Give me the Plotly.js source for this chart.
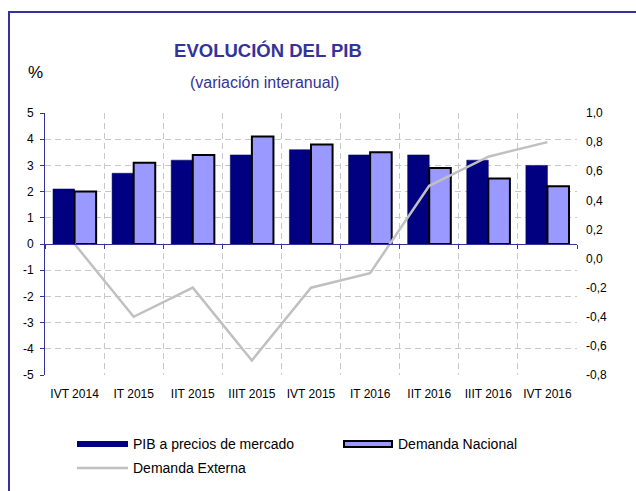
<!DOCTYPE html>
<html>
<head>
<meta charset="utf-8">
<script src="https://cdn.plot.ly/plotly-3.0.1.min.js"></script>
<style>
html,body{margin:0;padding:0;background:#fff;overflow:hidden;}
#wrap{position:relative;width:636px;height:491px;overflow:hidden;}
#chart{width:636px;height:491px;}
#frame{position:absolute;left:8px;top:11px;width:700px;height:600px;border-left:2px solid #333399;border-top:2px solid #333399;pointer-events:none;}
</style>
</head>
<body>
<div id="wrap"><div id="chart"></div><div id="frame"></div></div>
<script>
const categories = ['IVT 2014','IT 2015','IIT 2015','IIIT 2015','IVT 2015','IT 2016','IIT 2016','IIIT 2016','IVT 2016'];
const pibMercado = [2.1, 2.7, 3.2, 3.4, 3.6, 3.4, 3.4, 3.2, 3.0];
const demandaNacional = [2.0, 3.1, 3.4, 4.1, 3.8, 3.5, 2.9, 2.5, 2.2];
const demandaExterna = [0.1, -0.4, -0.2, -0.7, -0.2, -0.1, 0.5, 0.7, 0.8];
const leftTickVals = [-5,-4,-3,-2,-1,0,1,2,3,4,5];
const leftTickText = ['-5','-4','-3','-2','-1','0','1','2','3','4','5'];
const rightTickVals = [-0.8,-0.6,-0.4,-0.2,0,0.2,0.4,0.6,0.8,1.0];
const rightTickText = ['-0,8','-0,6','-0,4','-0,2','0,0','0,2','0,4','0,6','0,8','1,0'];
const seriesNames = ['PIB a precios de mercado','Demanda Nacional','Demanda Externa'];

// page geometry (pixels)
const W = 636, H = 491, L = 45, R = 577, T = 113, B = 375;
const px = x => (x - L) / (R - L);
const py = y => (B - y) / (B - T);

const NAVY = '#000080', LILAC = '#9999FF', GREY = '#C0C0C0', BLUE = '#333399';
const FONT = 'Arial, "Liberation Sans", sans-serif';

const traces = [
  {type:'bar', name:seriesNames[0], x:categories, y:pibMercado, xaxis:'x', yaxis:'y',
   marker:{color:NAVY, line:{color:'#000050', width:0.5}}, showlegend:false, hoverinfo:'x+y'},
  {type:'bar', name:seriesNames[1], x:categories, y:demandaNacional, xaxis:'x', yaxis:'y',
   marker:{color:LILAC, line:{color:'#000000', width:2}}, showlegend:false, hoverinfo:'x+y'},
  {type:'scatter', mode:'lines', name:seriesNames[2], x:categories, y:demandaExterna, xaxis:'x2', yaxis:'y2',
   line:{color:GREY, width:2.5}, showlegend:false, hoverinfo:'x+y'}
];

const legendY1 = 444, legendY2 = 468;
const layout = {
  width: W, height: H,
  margin: {l: L, r: W - R, t: T, b: H - B, pad: 0},
  paper_bgcolor: 'rgba(0,0,0,0)', plot_bgcolor: 'rgba(0,0,0,0)',
  font: {family: FONT, size: 12, color: '#000'},
  separators: ',.',
  showlegend: false,
  barmode: 'group', bargap: 0.27, bargroupgap: 0,
  title: {text: '<b>EVOLUCIÓN DEL PIB</b>', font: {family: FONT, size: 18.5, color: BLUE},
          xref: 'paper', x: px(268), xanchor: 'center', yref: 'container', y: 1 - 51 / H, yanchor: 'middle'},
  xaxis: {type: 'category', categoryorder: 'array', categoryarray: categories, range: [-0.5, 8.5],
          anchor: 'free', position: 0.5, showline: true, linecolor: BLUE, linewidth: 1,
          ticks: 'outside', ticklen: 4, tickcolor: BLUE, tickson: 'boundaries',
          showgrid: true, gridcolor: '#C8C8C8', griddash: '6px,4px', gridwidth: 1,
          showticklabels: false, zeroline: false, fixedrange: true},
  xaxis2: {type: 'category', categoryorder: 'array', categoryarray: categories, range: [-0.5, 8.5],
           overlaying: 'x', anchor: 'y2', side: 'bottom', showline: false, ticks: '', showgrid: false,
           showticklabels: true, tickfont: {size: 12, color: '#000'}, ticklabelstandoff: 10, zeroline: false, fixedrange: true},
  yaxis: {range: [-5, 5], tickvals: leftTickVals, ticktext: leftTickText,
          showline: true, linecolor: BLUE, linewidth: 1, ticks: 'outside', ticklen: 4, tickcolor: BLUE,
          showgrid: true, gridcolor: '#C8C8C8', griddash: '6px,4px', gridwidth: 1,
          zeroline: false, tickfont: {size: 12, color: '#000'}, ticklabelstandoff: 4, fixedrange: true},
  yaxis2: {range: [-0.8, 1.0], tickvals: rightTickVals, ticktext: rightTickText,
           overlaying: 'y', side: 'right', anchor: 'x', showline: false, ticks: '', showgrid: false,
           zeroline: false, tickfont: {size: 12, color: '#000'}, ticklabelstandoff: 8, fixedrange: true},
  shapes: [
    {type: 'rect', xref: 'paper', yref: 'paper', x0: px(77), x1: px(128), y0: py(legendY1 + 3), y1: py(legendY1 - 3),
     fillcolor: NAVY, line: {width: 0}},
    {type: 'rect', xref: 'paper', yref: 'paper', x0: px(344), x1: px(392), y0: py(legendY1 + 3), y1: py(legendY1 - 3),
     fillcolor: LILAC, line: {color: '#000', width: 2}},
    {type: 'line', xref: 'paper', yref: 'paper', x0: px(77), x1: px(128), y0: py(legendY2), y1: py(legendY2),
     line: {color: GREY, width: 2.5}}
  ],
  annotations: [
    {text: '(variación interanual)', xref: 'paper', yref: 'paper', x: px(264), y: py(83), xanchor: 'center', yanchor: 'middle',
     showarrow: false, font: {family: FONT, size: 16, color: BLUE}},
    {text: '%', xref: 'paper', yref: 'paper', x: px(35), y: py(72), xanchor: 'center', yanchor: 'middle',
     showarrow: false, font: {family: FONT, size: 17, color: '#000'}},
    {text: seriesNames[0], xref: 'paper', yref: 'paper', x: px(131), y: py(legendY1), xanchor: 'left', yanchor: 'middle',
     showarrow: false, font: {family: FONT, size: 14, color: '#000'}},
    {text: seriesNames[1], xref: 'paper', yref: 'paper', x: px(396), y: py(legendY1), xanchor: 'left', yanchor: 'middle',
     showarrow: false, font: {family: FONT, size: 14, color: '#000'}},
    {text: seriesNames[2], xref: 'paper', yref: 'paper', x: px(131), y: py(legendY2), xanchor: 'left', yanchor: 'middle',
     showarrow: false, font: {family: FONT, size: 14, color: '#000'}}
  ]
};

Plotly.newPlot('chart', traces, layout, {displayModeBar: false, staticPlot: true});
</script>
</body>
</html>
